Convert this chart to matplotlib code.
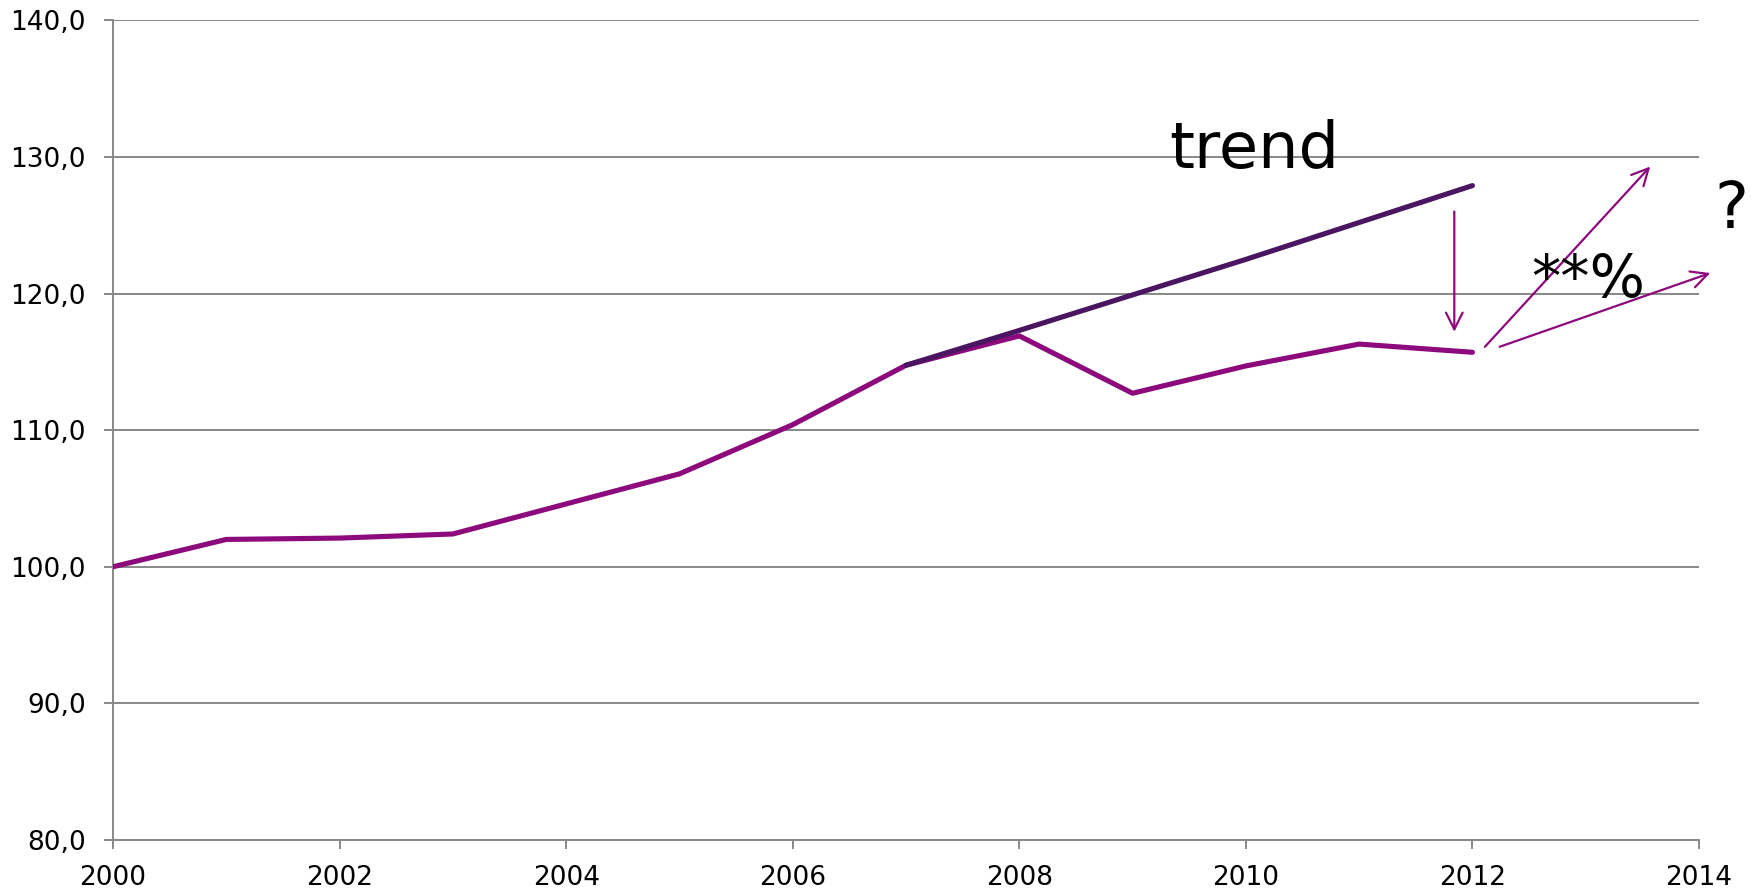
import matplotlib
matplotlib.use("Agg")
import matplotlib.pyplot as plt
from matplotlib.ticker import FuncFormatter

# ---- data ----
years = [2000, 2001, 2002, 2003, 2004, 2005, 2006, 2007, 2008, 2009, 2010, 2011, 2012]
index_values = [100.0, 102.0, 102.1, 102.4, 104.6, 106.8, 110.4, 114.75, 116.9, 112.7, 114.7, 116.3, 115.7]
trend_years = [2007, 2008, 2009, 2010, 2011, 2012]
trend_values = [114.75, 117.3, 119.9, 122.5, 125.2, 127.9]
x_ticks = [2000, 2002, 2004, 2006, 2008, 2010, 2012, 2014]
y_ticks = [80, 90, 100, 110, 120, 130, 140]

# annotation arrows (start, end) in data coordinates
gap_arrow = ((2011.84, 126.0), (2011.84, 117.2))
up_arrow = ((2012.11, 116.1), (2013.57, 129.3))
low_arrow = ((2012.24, 116.1), (2014.10, 121.5))

main_color = "#8C0A7C"
trend_color = "#4A1661"
grid_color = "#888888"

fig = plt.figure(figsize=(17.57, 8.92), dpi=100)
ax = fig.add_axes([113 / 1757, 52 / 892, (1699 - 113) / 1757, (840 - 20.3) / 892])

ax.plot(years, index_values, color=main_color, lw=3.7, solid_capstyle="round",
        solid_joinstyle="round", zorder=3)
ax.plot(trend_years, trend_values, color=trend_color, lw=3.7, solid_capstyle="round",
        solid_joinstyle="round", zorder=4)

ax.set_xlim(2000, 2014)
ax.set_ylim(80, 140)
ax.set_xticks(x_ticks)
ax.set_yticks(y_ticks)
ax.yaxis.set_major_formatter(FuncFormatter(lambda v, p: f"{v:.1f}".replace(".", ",")))
ax.grid(axis="y", color=grid_color, lw=1.4, zorder=1)
ax.set_axisbelow(True)

for s in ["top", "right"]:
    ax.spines[s].set_visible(False)
for s in ["left", "bottom"]:
    ax.spines[s].set_color(grid_color)
    ax.spines[s].set_linewidth(1.4)

ax.tick_params(axis="both", direction="out", length=6.5, width=1.4, color=grid_color,
               labelsize=19, labelcolor="black")
ax.tick_params(axis="y", pad=13)
ax.tick_params(axis="x", pad=11.5)

for (x0, y0), (x1, y1) in [gap_arrow, up_arrow, low_arrow]:
    ax.annotate("", xy=(x1, y1), xytext=(x0, y0),
                arrowprops=dict(arrowstyle="->", color=main_color, lw=1.6,
                                mutation_scale=30, shrinkA=0, shrinkB=0),
                annotation_clip=False, zorder=5)

ax.text(2009.32, 129.2, "trend", fontsize=46, color="black", ha="left", va="baseline", zorder=6)
ax.text(2012.52, 119.76, "**%", fontsize=42, color="black", ha="left", va="baseline", zorder=6)
ax.text(2014.14, 124.8, "?", fontsize=46, color="black", ha="left", va="baseline",
        zorder=6, clip_on=False)

fig.savefig("out.png", dpi=100)
